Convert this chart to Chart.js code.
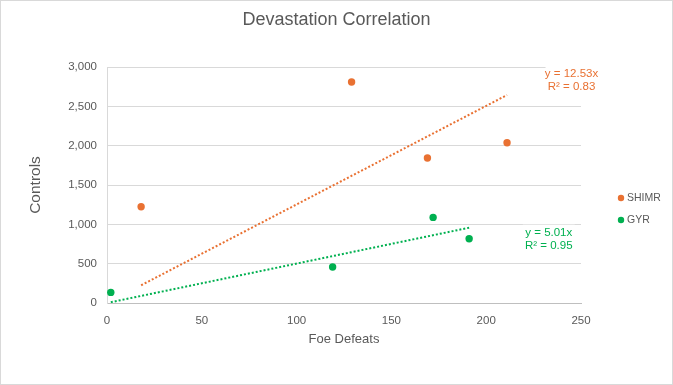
<!DOCTYPE html>
<html>
<head>
<meta charset="utf-8">
<script src="https://cdn.jsdelivr.net/npm/chart.js@4"></script>
<style>
  body { margin: 0; background: #ffffff; }
</style>
</head>
<body>
<canvas id="scatterChart" width="673" height="385"></canvas>
<script>
// values
const seriesNames = ["SHIMR", "GYR"];
const shimrX = [18, 129, 169, 211];
const shimrY = [1224, 2809, 1843, 2038];
const gyrX = [2, 119, 172, 191];
const gyrY = [135, 458, 1088, 817];

// trendline equations (through origin), as printed on the chart
const trendSlopes = [12.53, 5.01];
const trendR2 = [0.83, 0.95];
// where the equation labels sit, in data units
const labelAnchorX = [245, 233];
const labelAnchorY = [2826, 805];

const xTicks = [0, 50, 100, 150, 200, 250];
const yTicks = [0, 500, 1000, 1500, 2000, 2500, 3000];

const chartTitle = "Devastation Correlation";
const orange = "#E97132";
const green = "#00B050";
const textGray = "#595959";
const fontFamily = "'Liberation Sans', Arial, sans-serif";

function toPoints(xs, ys) {
  return xs.map((x, i) => ({ x: x, y: ys[i] }));
}

function trendPoints(xs, slope) {
  const lo = Math.min(...xs);
  const hi = Math.max(...xs);
  return [{ x: lo, y: slope * lo }, { x: hi, y: slope * hi }];
}

const labelPlugin = {
  id: "trendLabels",
  afterDatasetsDraw(chart) {
    const ctx = chart.ctx;
    const xScale = chart.scales.x;
    const yScale = chart.scales.y;
    const colors = [orange, green];
    ctx.save();
    ctx.font = "11.5px " + fontFamily;
    ctx.textAlign = "center";
    ctx.textBaseline = "middle";
    trendSlopes.forEach(function (slope, i) {
      const cx = xScale.getPixelForValue(labelAnchorX[i]);
      const cy = yScale.getPixelForValue(labelAnchorY[i]);
      ctx.fillStyle = "#ffffff";
      ctx.fillRect(cx - 26, cy - 15, 52, 30);
      ctx.fillStyle = colors[i];
      ctx.fillText("y = " + slope.toFixed(2) + "x", cx, cy - 6.5);
      ctx.fillText("R\u00B2 = " + trendR2[i].toFixed(2), cx, cy + 6.5);
    });
    ctx.restore();
  },
  afterDraw(chart) {
    const ctx = chart.ctx;
    const area = chart.chartArea;
    const colors = [orange, green];
    ctx.save();
    // title, centred on the whole chart
    ctx.font = "18px " + fontFamily;
    ctx.fillStyle = textGray;
    ctx.textAlign = "center";
    ctx.textBaseline = "middle";
    ctx.fillText(chartTitle, chart.width / 2, 20);
    // legend
    ctx.font = "10.5px " + fontFamily;
    ctx.textAlign = "left";
    seriesNames.forEach(function (name, i) {
      const lx = area.right + 40;
      const ly = 198 + i * 22;
      ctx.fillStyle = colors[i];
      ctx.beginPath();
      ctx.arc(lx, ly, 3.2, 0, Math.PI * 2);
      ctx.fill();
      ctx.fillStyle = textGray;
      ctx.fillText(name, lx + 6, ly + 0.5);
    });
    // chart border
    ctx.strokeStyle = "#D9D9D9";
    ctx.lineWidth = 1;
    ctx.strokeRect(0.5, 0.5, chart.width - 1, chart.height - 1);
    ctx.restore();
  },
};

const ctx = document.getElementById("scatterChart").getContext("2d");
const chart = new Chart(ctx, {
  type: "scatter",
  data: {
    datasets: [
      {
        label: seriesNames[0],
        data: toPoints(shimrX, shimrY),
        backgroundColor: orange,
        borderColor: orange,
        pointRadius: 3.7,
        pointBorderWidth: 0,
        order: 1,
      },
      {
        label: seriesNames[1],
        data: toPoints(gyrX, gyrY),
        backgroundColor: green,
        borderColor: green,
        pointRadius: 3.7,
        pointBorderWidth: 0,
        order: 1,
      },
      {
        label: "trend " + seriesNames[0],
        data: trendPoints(shimrX, trendSlopes[0]),
        showLine: true,
        borderColor: orange,
        borderWidth: 2,
        borderDash: [2, 2],
        pointRadius: 0,
        order: 2,
      },
      {
        label: "trend " + seriesNames[1],
        data: trendPoints(gyrX, trendSlopes[1]),
        showLine: true,
        borderColor: green,
        borderWidth: 2,
        borderDash: [2, 2],
        pointRadius: 0,
        order: 2,
      },
    ],
  },
  options: {
    responsive: false,
    animation: false,
    layout: { padding: { left: 0, right: 92, top: 67, bottom: 0 } },
    plugins: {
      legend: { display: false },
      tooltip: { enabled: false },
      title: { display: false },
    },
    scales: {
      x: {
        type: "linear",
        min: 0,
        max: 250,
        afterBuildTicks: function (scale) {
          scale.ticks = xTicks.map((v) => ({ value: v }));
        },
        afterFit: function (scale) {
          scale.height = 82;
        },
        grid: { display: false, drawTicks: false },
        border: { display: true, color: "#BFBFBF", width: 1 },
        ticks: {
          color: textGray,
          padding: 11,
          font: { family: fontFamily, size: 11.5 },
        },
        title: {
          display: true,
          text: "Foe Defeats",
          color: textGray,
          font: { family: fontFamily, size: 13 },
          padding: { top: 0, bottom: 38 },
        },
      },
      y: {
        type: "linear",
        min: 0,
        max: 3000,
        afterBuildTicks: function (scale) {
          scale.ticks = yTicks.map((v) => ({ value: v }));
        },
        afterFit: function (scale) {
          scale.width = 107;
        },
        grid: { color: "#D9D9D9", lineWidth: 1, drawTicks: false },
        border: { display: true, color: "#D9D9D9", width: 1 },
        ticks: {
          color: textGray,
          padding: 10,
          font: { family: fontFamily, size: 11.5 },
          callback: function (value) {
            return Number(value).toLocaleString("en-US");
          },
        },
        title: {
          display: true,
          text: "Controls",
          color: textGray,
          font: { family: fontFamily, size: 15.5 },
          padding: { top: 26.5, bottom: 0 },
        },
      },
    },
  },
  plugins: [labelPlugin],
});
</script>
</body>
</html>
